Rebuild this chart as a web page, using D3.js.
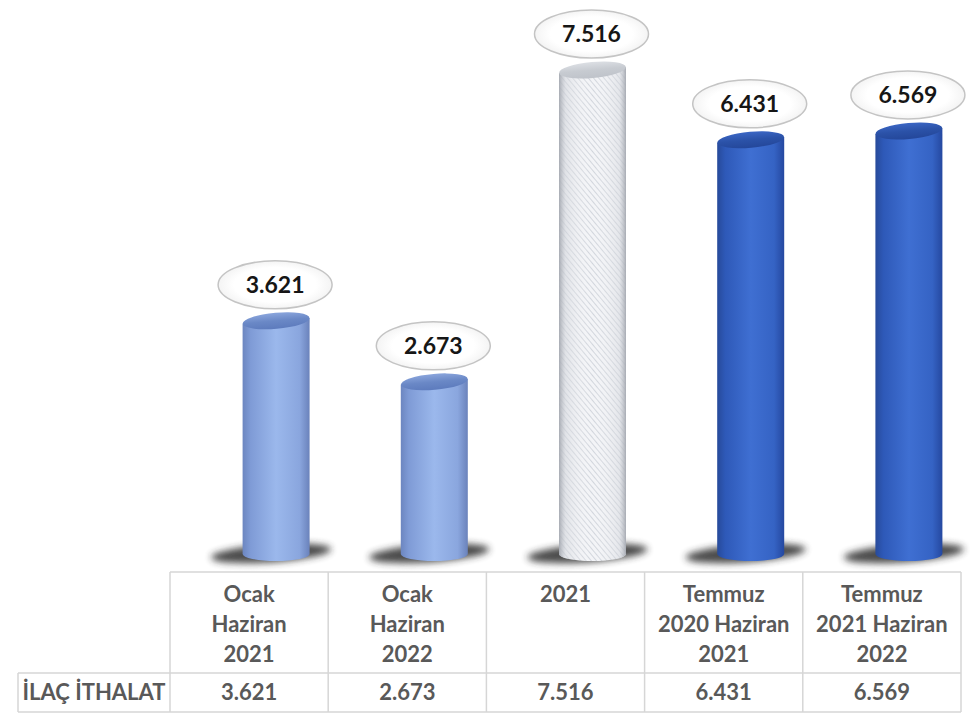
<!DOCTYPE html>
<html><head><meta charset="utf-8">
<script src="https://cdn.jsdelivr.net/npm/d3@7"></script>
<style>body{margin:0;background:#fff}svg{display:block}</style>
</head><body>
<svg id="c" width="970" height="713"></svg>
<script>
const categories = [["Ocak","Haziran","2021"],["Ocak","Haziran","2022"],["2021"],["Temmuz","2020 Haziran","2021"],["Temmuz","2021 Haziran","2022"]];
const categoryKeys = ["Ocak Haziran 2021","Ocak Haziran 2022","2021","Temmuz 2020 Haziran 2021","Temmuz 2021 Haziran 2022"];
const values = [3.621, 2.673, 7.516, 6.431, 6.569];
const styles = ["light","light","hatch","dark","dark"];
const rowLabel = "İLAÇ İTHALAT";

const svg = d3.select("#c");
const fmt = d3.format(".3f");
const x = d3.scaleBand().domain(categoryKeys).range([170, 961]);
const y = d3.scaleLinear().domain([0, 8]).range([554, 554 - 8*64.4]);
const barOffset = 27, barW = 67, capRy = 8, tilt = -5;

const defs = svg.append("defs");
function hGrad(id, stops){
  const g = defs.append("linearGradient").attr("id", id).attr("x1","0").attr("x2","1").attr("y1","0").attr("y2","0");
  stops.forEach(s => g.append("stop").attr("offset", s[0]).attr("stop-color", s[1]).attr("stop-opacity", s[2]===undefined?1:s[2]));
}
function vGrad(id, stops){
  const g = defs.append("linearGradient").attr("id", id).attr("x1","0").attr("x2","0").attr("y1","0").attr("y2","1");
  stops.forEach(s => g.append("stop").attr("offset", s[0]).attr("stop-color", s[1]));
}
hGrad("g-light", [[0,"#6c86c0"],[0.12,"#7f9bd6"],[0.5,"#9bb8ec"],[0.85,"#8aa6de"],[1,"#6a82bb"]]);
hGrad("g-dark", [[0,"#274a9a"],[0.12,"#2e59b8"],[0.5,"#3f6fd2"],[0.85,"#3563c4"],[1,"#2548a0"]]);
hGrad("g-hatchshade", [[0,"#a4a8b0",0.95],[0.1,"#d2d5db",0.55],[0.5,"#ffffff",0],[0.9,"#d2d5db",0.45],[1,"#a4a8b0",0.95]]);
vGrad("c-light", [[0,"#8aa5dc"],[0.5,"#6a88c6"],[1,"#5d7bbd"]]);
vGrad("c-dark", [[0,"#3b66c4"],[0.5,"#2b52a8"],[1,"#24479a"]]);
vGrad("c-hatch", [[0,"#dcdfe4"],[0.5,"#c7cbd1"],[1,"#bfc3ca"]]);
const rg = defs.append("radialGradient").attr("id","lbl").attr("cx","0.5").attr("cy","0.5").attr("r","0.6");
rg.append("stop").attr("offset",0.6).attr("stop-color","#ffffff");
rg.append("stop").attr("offset",1).attr("stop-color","#ececec");
const pat = defs.append("pattern").attr("id","hatch").attr("patternUnits","userSpaceOnUse")
  .attr("width",4).attr("height",4).attr("patternTransform","rotate(-40)");
pat.append("rect").attr("width",4).attr("height",4).attr("fill","#f3f4f7");
pat.append("line").attr("x1",0).attr("y1",0).attr("x2",0).attr("y2",4).attr("stroke","#c9cdd5").attr("stroke-width",1.6);
const blur = defs.append("filter").attr("id","blur").attr("x","-50%").attr("y","-100%").attr("width","200%").attr("height","300%");
blur.append("feGaussianBlur").attr("stdDeviation", 3.5);

const data = categoryKeys.map((k,i) => ({k, v: values[i], s: styles[i], lines: categories[i]}));
const bars = svg.append("g").selectAll("g").data(data).join("g");
const rad = tilt * Math.PI / 180;
bars.each(function(d){
  const g = d3.select(this);
  const cx = x(d.k) + x.bandwidth()/2 + barOffset;
  const a = barW/2;
  const x0 = cx - a, x1 = cx + a;
  const yb = y(0), yt = y(d.v);
  // shadow
  g.append("ellipse").attr("cx", cx - 5).attr("cy", yb - 1).attr("rx", 60).attr("ry", 9)
    .attr("transform", `rotate(-4 ${cx} ${yb})`)
    .attr("fill", "#2a2a2a").attr("opacity", 0.85).attr("filter","url(#blur)");
  const lyT = yt - a*Math.sin(rad), ryT = yt + a*Math.sin(rad);
  const body = `M${x0},${lyT} L${x0},${yb} A${a},${capRy-1} 0 0 0 ${x1},${yb} L${x1},${ryT} Z`;
  if (d.s === "hatch") {
    g.append("path").attr("d", body).attr("fill", "url(#hatch)");
    g.append("path").attr("d", body).attr("fill", "url(#g-hatchshade)");
  } else {
    g.append("path").attr("d", body).attr("fill", d.s === "light" ? "url(#g-light)" : "url(#g-dark)");
  }
  g.append("ellipse").attr("cx", cx).attr("cy", yt).attr("rx", a).attr("ry", capRy)
    .attr("transform", `rotate(${tilt} ${cx} ${yt})`)
    .attr("fill", d.s === "light" ? "url(#c-light)" : d.s === "dark" ? "url(#c-dark)" : "url(#c-hatch)");
  // label
  const ly = yt - capRy - 28;
  g.append("ellipse").attr("cx", cx - 1).attr("cy", ly).attr("rx", 57).attr("ry", 24)
    .attr("fill", "url(#lbl)").attr("stroke", "#c4c4c4").attr("stroke-width", 1.5);
  g.append("text").attr("x", cx - 1).attr("y", ly + 8).attr("text-anchor","middle")
    .attr("font-family","Lato, sans-serif").attr("font-weight","bold").attr("font-size", 23)
    .attr("fill","#161616").text(fmt(d.v));
});

// table
const t = svg.append("g");
const lineC = "#d6d6d6";
const tTop = 572, tSep = 673, tBot = 712, tLeft = 18;
t.append("line").attr("x1",170).attr("x2",961).attr("y1",tTop).attr("y2",tTop).attr("stroke",lineC).attr("stroke-width",1.5);
t.append("line").attr("x1",tLeft).attr("x2",961).attr("y1",tSep).attr("y2",tSep).attr("stroke",lineC).attr("stroke-width",1.5);
t.append("line").attr("x1",tLeft).attr("x2",961).attr("y1",tBot).attr("y2",tBot).attr("stroke",lineC).attr("stroke-width",1.5);
t.append("line").attr("x1",tLeft).attr("x2",tLeft).attr("y1",tSep).attr("y2",tBot).attr("stroke",lineC).attr("stroke-width",1.5);
const vx = categoryKeys.map(k => x(k)).concat([x.range()[1]]);
t.selectAll("line.v").data(vx).join("line").attr("class","v")
  .attr("x1",d=>d).attr("x2",d=>d).attr("y1",tTop).attr("y2",tBot).attr("stroke",lineC).attr("stroke-width",1.5);
const tf = sel => sel.attr("font-family","Lato, sans-serif").attr("font-weight","bold").attr("font-size",22).attr("fill","#595959").attr("text-anchor","middle");
data.forEach(d => {
  const cx = x(d.k) + x.bandwidth()/2;
  d.lines.forEach((ln, j) => t.append("text").call(tf).attr("x", cx).attr("y", 602 + j*30).text(ln));
  t.append("text").call(tf).attr("x", cx).attr("y", 700).text(fmt(d.v));
});
t.append("text").call(tf).attr("x", (tLeft+170)/2).attr("y", 700).text(rowLabel);
</script>
</body></html>
